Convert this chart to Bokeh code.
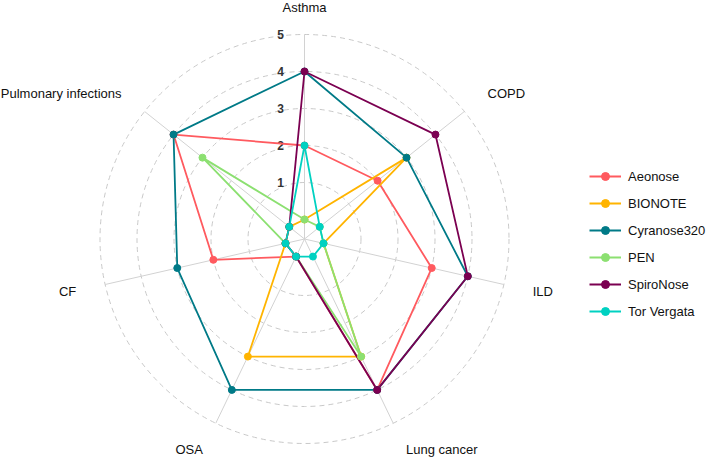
import numpy as np
from bokeh.plotting import figure
from bokeh.models import Range1d, Legend, LegendItem
from bokeh.core.properties import value
from bokeh.embed import file_html
from bokeh.resources import INLINE

# ---- data ----
axis_labels = ["Asthma", "COPD", "ILD", "Lung cancer", "OSA", "CF", "Pulmonary infections"]
series_names = ["Aeonose", "BIONOTE", "Cyranose320", "PEN", "SpiroNose", "Tor Vergata"]
aeonose = [2, 2, 3, 4, 0, 2, 4]
bionote = [0, 3, 0, 3, 3, 0, 0]
cyranose320 = [4, 3, 4, 4, 4, 3, 4]
pen = [0, 0, 0, 3, 0, 0, 3]
spironose = [4, 4, 4, 4, 0, 0, 0]
tor_vergata = [2, 0, 0, 0, 0, 0, 0]
tick_values = [1, 2, 3, 4, 5]
tick_labels = ["1", "2", "3", "4", "5"]
colors = ["#FF5A5F", "#FFB400", "#007A87", "#8CE071", "#7B0051", "#00D1C1"]

series_values = [aeonose, bionote, cyranose320, pen, spironose, tor_vergata]

FONT = "Liberation Sans"

# radial scale (value -> screen px distance from centre)
R0, K = 19.5, 37.0
def radius(v):
    return R0 + K * np.asarray(v, dtype=float)

n = len(axis_labels)
angles = np.deg2rad(90.0 - np.arange(n) * 360.0 / n)

W, H = 708, 459
CX, CY = 304.0, 238.5  # centre in frame px (from left, from top)
p = figure(width=W, height=H, output_backend="svg", toolbar_location=None,
           x_range=Range1d(-CX, W - CX), y_range=Range1d(CY - H, CY),
           x_axis_type=None, y_axis_type=None, min_border=0,
           outline_line_color=None, background_fill_color="white",
           border_fill_color="white")
p.xgrid.visible = False
p.ygrid.visible = False

# grid circles
p.circle(x=[0] * len(tick_values), y=[0] * len(tick_values),
         radius=list(radius(tick_values)), radius_units="data",
         fill_color=None, line_color="#C9C9C9", line_width=1, line_dash="5 4")

# spokes
rmax = float(radius(max(tick_values)))
p.multi_line(xs=[[0, rmax * np.cos(a)] for a in angles],
             ys=[[0, rmax * np.sin(a)] for a in angles],
             line_color="#D2D2D2", line_width=1)

# tick labels
p.text(x=[-24] * len(tick_values), y=list(radius(tick_values)), text=tick_labels,
       text_font=value(FONT), text_font_size="12px", text_font_style="bold",
       text_color="#333333", text_align="center", text_baseline="middle")

# axis labels
lab_r = float(radius(5.8))
lx = lab_r * np.cos(angles)
ly = lab_r * np.sin(angles)
top_lim, bot_lim = CY - 7, CY - H + 8
groups = {"center": [], "left": [], "right": []}
for i, lab in enumerate(axis_labels):
    x, y = lx[i], ly[i]
    y = min(max(y, bot_lim), top_lim)
    c = np.cos(angles[i])
    al = "center" if abs(c) < 1e-6 else ("left" if c > 0 else "right")
    groups[al].append((x, y, lab))
for al, items in groups.items():
    if not items:
        continue
    p.text(x=[t[0] for t in items], y=[t[1] for t in items], text=[t[2] for t in items],
           text_font=value(FONT), text_font_size="13px", text_color="#111111",
           text_align=al, text_baseline="middle")

# series
line_rs, pt_rs = [], []
for name, vals, col in zip(series_names, series_values, colors):
    r = radius(vals)
    xs = list(r * np.cos(angles)) + [r[0] * np.cos(angles[0])]
    ys = list(r * np.sin(angles)) + [r[0] * np.sin(angles[0])]
    line_rs.append(p.line(xs, ys, line_color=col, line_width=1.8))
for name, vals, col in zip(series_names, series_values, colors):
    r = radius(vals)
    pt_rs.append(p.scatter(list(r * np.cos(angles)), list(r * np.sin(angles)),
                           size=7, fill_color=col, line_color=col))

items = [LegendItem(label=nm, renderers=[lr, pr]) for nm, lr, pr in zip(series_names, line_rs, pt_rs)]
legend = Legend(items=items, location=(589, 138), glyph_width=32, glyph_height=20,
                label_height=20, spacing=7, padding=0, margin=0, label_standoff=7,
                border_line_color=None, background_fill_alpha=0,
                label_text_font=FONT, label_text_font_size="13px",
                label_text_color="#111111", label_text_baseline="middle")
p.add_layout(legend)

open("out.html", "w").write(file_html(p, INLINE))
